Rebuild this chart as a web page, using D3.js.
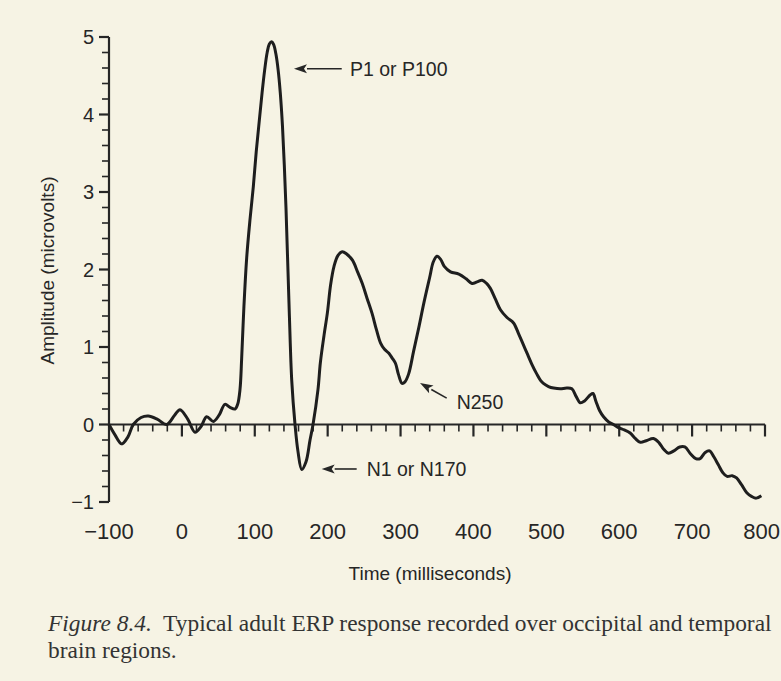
<!DOCTYPE html>
<html>
<head>
<meta charset="utf-8">
<script src="https://cdn.jsdelivr.net/npm/d3@7"></script>
<style>
  html, body { margin: 0; padding: 0; background: #f6f3e4; }
  svg { display: block; }
</style>
</head>
<body>
<script>
// ---- data ----
const timesMs = [-100,-92,-82.6,-74,-66.7,-56,-46.1,-34,-20.8,-10,-2.6,8,18,26,34,43.1,51,59.1,66,72.9,76.5,79.7,82,85,88.9,93.5,98,102,106.3,110,113.5,117,120,123.2,126,129,132,135,138,140.5,142.8,145,147.5,150.7,155.2,159.3,164.4,170.3,175.8,179.9,186.7,190,195,199.6,204,208.7,214,220,226,234,241,247.5,254,261,267,272.6,278,284,289,293,297,302,306,311,318,325,332,340,345,350,355,360,368.5,380,390,398,405,412,418,423,430,437,446,455,462,468,473.5,480,487,492,496,503,510,519,528,535,541,546.5,552,560,564,568,573,578.5,586,592,599,607,615,622,629,637,647,655,661,667.5,675,683,690,698,705,711,718,724,730,736,742,748,755,761,768,775,782,788,795];
const amplitudeUv = [0,-0.13,-0.25,-0.16,0,0.09,0.11,0.07,0,0.12,0.19,0.07,-0.1,-0.03,0.1,0.04,0.12,0.26,0.22,0.2,0.26,0.45,0.85,1.5,2.15,2.65,3.07,3.52,3.93,4.28,4.57,4.8,4.91,4.94,4.9,4.78,4.58,4.28,3.85,3.35,2.8,2.15,1.4,0.57,0,-0.35,-0.58,-0.48,-0.2,0,0.45,0.8,1.15,1.44,1.8,2.04,2.18,2.23,2.2,2.12,1.97,1.82,1.63,1.43,1.22,1.05,0.97,0.92,0.85,0.79,0.65,0.53,0.55,0.65,0.95,1.25,1.57,1.9,2.1,2.17,2.13,2.04,1.97,1.94,1.88,1.82,1.84,1.86,1.82,1.76,1.62,1.48,1.38,1.31,1.17,1.04,0.92,0.78,0.65,0.57,0.53,0.49,0.47,0.46,0.47,0.46,0.36,0.28,0.3,0.38,0.4,0.3,0.18,0.1,0.03,0,-0.04,-0.07,-0.11,-0.18,-0.23,-0.21,-0.18,-0.24,-0.32,-0.37,-0.34,-0.29,-0.29,-0.38,-0.44,-0.44,-0.36,-0.34,-0.42,-0.52,-0.62,-0.67,-0.66,-0.69,-0.78,-0.88,-0.93,-0.95,-0.92];

const xTickLabels = [-100,0,100,200,300,400,500,600,700,800];
const yTickLabels = [-1,0,1,2,3,4,5];

const annotationLabels = ["P1 or P100", "N1 or N170", "N250"];
const annotationTip    = [[153.8, 4.59], [191.8, -0.574], [326.7, 0.535]];
const annotationTail   = [[219.3, 4.59], [239.8, -0.574], [363.3, 0.34]];
const annotationText   = [[230.6, 4.59], [253.5, -0.574], [377, 0.29]];

const xTitle = "Time (milliseconds)";
const yTitle = "Amplitude (microvolts)";
const captionItalic = "Figure 8.4.";
const captionLine1 = "Typical adult ERP response recorded over occipital and temporal";
const captionLine2 = "brain regions.";

// ---- drawing ----
const W = 781, H = 681;
const ink = "#262626";
const svg = d3.select("body").append("svg").attr("width", W).attr("height", H);
svg.append("rect").attr("width", W).attr("height", H).attr("fill", "#f6f3e4");

const x = d3.scaleLinear().domain([-100, 800]).range([109, 765]);
const y = d3.scaleLinear().domain([-1, 5]).range([502, 37]);
const sans = "'Liberation Sans', Arial, Helvetica, sans-serif";

// y axis
const yAxisG = svg.append("g").attr("transform", `translate(${x(-100)},0)`);
yAxisG.append("line").attr("x1", 0).attr("x2", 0).attr("y1", y(5)).attr("y2", y(-1))
  .attr("stroke", ink).attr("stroke-width", 2.2);
const yMinor = d3.range(-1, 5.0001, 0.2).map(v => +v.toFixed(1));
yAxisG.selectAll("line.ytick").data(yMinor).join("line").attr("class", "ytick")
  .attr("x1", d => Number.isInteger(d) ? -10 : -7).attr("x2", 0)
  .attr("y1", d => y(d)).attr("y2", d => y(d))
  .attr("stroke", ink).attr("stroke-width", d => Number.isInteger(d) ? 2.2 : 1.6);
yAxisG.selectAll("text").data(yTickLabels).join("text")
  .attr("x", -15).attr("y", d => y(d)).attr("dy", "0.36em")
  .attr("text-anchor", "end").attr("font-family", sans).attr("font-size", 20)
  .attr("fill", ink).text(d => d < 0 ? "\u2212" + Math.abs(d) : d);

// x axis
const xAxisG = svg.append("g").attr("transform", `translate(0,${y(0)})`);
xAxisG.append("line").attr("x1", x(-100)).attr("x2", x(800)).attr("y1", 0).attr("y2", 0)
  .attr("stroke", ink).attr("stroke-width", 2.2);
const xMinor = d3.range(-80, 800.001, 20);
xAxisG.selectAll("line.xtick").data(xMinor).join("line").attr("class", "xtick")
  .attr("x1", d => x(d)).attr("x2", d => x(d))
  .attr("y1", 0).attr("y2", d => d % 100 === 0 ? 12 : 7)
  .attr("stroke", ink).attr("stroke-width", d => d % 100 === 0 ? 2.2 : 1.6);
const xl = svg.append("g").selectAll("text").data(xTickLabels).join("text")
  .attr("x", d => x(d)).attr("y", 539)
  .attr("text-anchor", "middle").attr("font-family", sans).attr("font-size", 22)
  .attr("fill", ink).text(d => d < 0 ? "\u2212" + Math.abs(d) : d);
xl.each(function () {
  const b = this.getBBox();
  if (b.x + b.width > W - 1) d3.select(this).attr("x", +d3.select(this).attr("x") - (b.x + b.width - (W - 1)));
});

// axis titles
svg.append("text").attr("x", 430).attr("y", 580).attr("text-anchor", "middle")
  .attr("font-family", sans).attr("font-size", 19).attr("fill", ink).text(xTitle);
svg.append("text").attr("transform", "translate(54,270.5) rotate(-90)").attr("text-anchor", "middle")
  .attr("font-family", sans).attr("font-size", 19).attr("fill", ink).text(yTitle);

// waveform
const pts = timesMs.map((t, i) => [t, amplitudeUv[i]]);
const line = d3.line().x(d => x(d[0])).y(d => y(d[1])).curve(d3.curveCatmullRom.alpha(0.5));
svg.append("path").datum(pts).attr("d", line).attr("fill", "none")
  .attr("stroke", "#1e1e1e").attr("stroke-width", 3).attr("stroke-linejoin", "round");

// annotations
const annG = svg.append("g");
annotationLabels.forEach((lab, i) => {
  const [tx, ty] = [x(annotationTip[i][0]), y(annotationTip[i][1])];
  const [sx, sy] = [x(annotationTail[i][0]), y(annotationTail[i][1])];
  const ang = Math.atan2(ty - sy, tx - sx);
  const hl = 13, hw = 4.5;
  const bx = tx - hl * Math.cos(ang), by = ty - hl * Math.sin(ang);
  annG.append("line").attr("x1", sx).attr("y1", sy).attr("x2", bx).attr("y2", by)
    .attr("stroke", ink).attr("stroke-width", 1.6);
  const px = -Math.sin(ang), py = Math.cos(ang);
  annG.append("path")
    .attr("d", `M${tx},${ty}L${bx + px * hw},${by + py * hw}L${bx + 3 * Math.cos(ang)},${by + 3 * Math.sin(ang)}L${bx - px * hw},${by - py * hw}Z`)
    .attr("fill", ink);
  annG.append("text").attr("x", x(annotationText[i][0])).attr("y", y(annotationText[i][1]))
    .attr("dy", "0.36em").attr("font-family", sans).attr("font-size", 19.5)
    .attr("fill", ink).text(lab);
});

// caption
const serif = "'Liberation Serif', 'Times New Roman', serif";
const cap = svg.append("g").attr("font-family", serif).attr("fill", "#333");
const t1 = cap.append("text").attr("x", 48).attr("y", 631).attr("font-size", 21);
t1.append("tspan").attr("font-style", "italic").text(captionItalic);
t1.append("tspan").text("\u00a0 " + captionLine1);
const t2 = cap.append("text").attr("x", 48).attr("y", 658).attr("font-size", 21).text(captionLine2);
const len = t1.node().getComputedTextLength();
const fs = Math.min(24, 21 * 724 / len);
t1.attr("font-size", fs); t2.attr("font-size", fs);
</script>
</body>
</html>
